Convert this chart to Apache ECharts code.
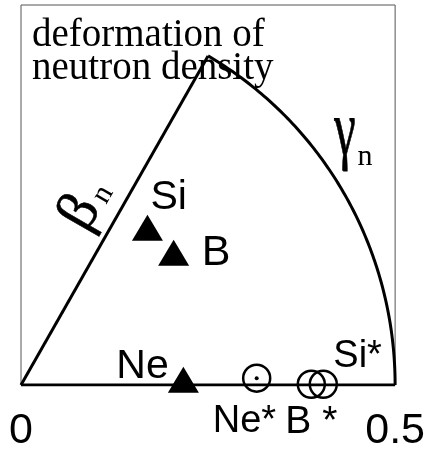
<!DOCTYPE html>
<html>
<head>
<meta charset="utf-8">
<script src="https://cdn.jsdelivr.net/npm/echarts@6/dist/echarts.min.js"></script>
<style>
html,body{margin:0;padding:0;background:#fff;}
#chart{width:428px;height:453px;}
</style>
</head>
<body>
<div id="chart"></div>
<script>
// ---- data ----
const triNames = ['Si', 'B', 'Ne'];
const triX = [0.169, 0.204, 0.217];
const triY = [0.207, 0.174, 0.007];
const circNames = ['Ne*', 'B *', 'Si*'];
const circX = [0.315, 0.388, 0.404];
const circY = [0.009, 0.001, 0.001];
const xTicks = [0, 0.5];
const betaMax = 0.5;
const gammaMaxDeg = 60;

// ---- styles ----
const labelStyle = {
  'Si':  { offset: [3, -30], size: 41 },
  'B':   { offset: [28, 0], size: 43 },
  'Ne':  { offset: [-67, -13], size: 41 },
  'Ne*': { offset: [-44, 43], size: 38 },
  'B *': { offset: [-26, 38.5], size: 39 },
  'Si*': { offset: [10, -27.5], size: 38 }
};
const SANS = '"Liberation Sans", Arial, sans-serif';
const SERIF = '"Liberation Serif", "Times New Roman", serif';

function labelFor(name) {
  const s = labelStyle[name];
  return {
    show: true, formatter: name, position: 'inside', align: 'left', verticalAlign: 'middle',
    offset: s.offset, fontSize: s.size, fontFamily: SANS, color: '#000', opacity: 1
  };
}

const triData = triNames.map((n, i) => ({ name: n, value: [triX[i], triY[i]], label: labelFor(n) }));
const circData = circNames.map((n, i) => ({ name: n, value: [circX[i], circY[i]], label: labelFor(n) }));

const g = gammaMaxDeg * Math.PI / 180;
const edgeLine = [[0, 0], [betaMax * Math.cos(g), betaMax * Math.sin(g)]];
const baseLine = [[0, 0], [betaMax, 0]];

const chart = echarts.init(document.getElementById('chart'), null, { renderer: 'canvas' });
chart.setOption({
  animation: false,
  backgroundColor: '#fff',
  grid: { left: 21, right: 31, top: 5, bottom: 68, show: true, borderColor: '#555', borderWidth: 1, backgroundColor: 'transparent' },
  xAxis: {
    type: 'value', min: xTicks[0], max: xTicks[xTicks.length - 1], interval: xTicks[1] - xTicks[0],
    axisLine: { show: false }, axisTick: { show: false }, splitLine: { show: false },
    axisLabel: { show: true, margin: 25, fontSize: 43, fontFamily: SANS, color: '#000', showMinLabel: true, showMaxLabel: true }
  },
  yAxis: { type: 'value', min: 0, max: 0.5, show: false, splitLine: { show: false } },
  graphic: [
    { type: 'text', z: 0, x: 32, y: 36, style: { text: 'deformation of', font: '39px ' + SERIF, fill: '#000', align: 'left', verticalAlign: 'middle' } },
    { type: 'text', z: 0, x: 32, y: 69, style: { text: 'neutron density', font: '39px ' + SERIF, fill: '#000', align: 'left', verticalAlign: 'middle' } },
    { type: 'group', x: 86, y: 216, rotation: Math.PI / 3, children: [
      { type: 'text', x: 0, y: -6, style: { text: 'β', font: '58px ' + SERIF, fill: '#000', stroke: '#000', lineWidth: 0.6, align: 'center', verticalAlign: 'middle' } },
      { type: 'text', x: 27, y: 4, style: { text: 'n', font: '30px ' + SERIF, fill: '#000', align: 'center', verticalAlign: 'middle' } }
    ]},
    { type: 'group', x: 345, y: 134, children: [
      { type: 'text', x: 0, y: 0, scaleX: 0.62, style: { text: 'γ', font: '78px ' + SERIF, fill: '#000', stroke: '#000', lineWidth: 0.8, align: 'center', verticalAlign: 'middle' } },
      { type: 'text', x: 20, y: 23, style: { text: 'n', font: '30px ' + SERIF, fill: '#000', align: 'center', verticalAlign: 'middle' } }
    ]}
  ],
  series: [
    { type: 'line', data: edgeLine, symbol: 'none', lineStyle: { color: '#000', width: 3 }, z: 3 },
    { type: 'line', data: baseLine, symbol: 'none', lineStyle: { color: '#000', width: 3 }, z: 3 },
    {
      type: 'custom', z: 3, data: [[betaMax, gammaMaxDeg]],
      renderItem: function (params, api) {
        const r = api.value(0), gm = api.value(1);
        const pts = [];
        for (let a = 0; a <= gm; a += 0.5) {
          const t = a * Math.PI / 180;
          pts.push(api.coord([r * Math.cos(t), r * Math.sin(t)]));
        }
        return { type: 'polyline', shape: { points: pts }, style: { stroke: '#000', lineWidth: 3, fill: null } };
      }
    },
    { type: 'scatter', z: 4, symbol: 'triangle', symbolSize: [31, 26], itemStyle: { color: '#000', opacity: 1 }, data: triData },
    { type: 'scatter', z: 4, symbol: 'circle', symbolSize: 27, itemStyle: { color: 'rgba(0,0,0,0)', borderColor: '#000', borderWidth: 2.5, opacity: 1 }, data: circData },
    { type: 'scatter', z: 4, symbol: 'circle', symbolSize: 4, itemStyle: { color: '#000', opacity: 1 }, data: [[circX[0], circY[0]]] }
  ]
});
</script>
</body>
</html>
